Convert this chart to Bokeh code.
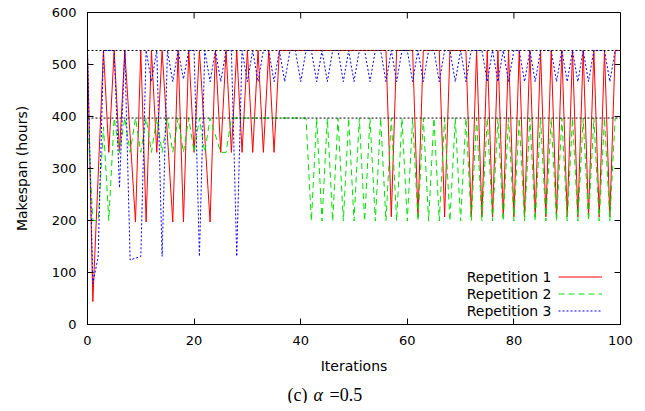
import math
from bokeh.plotting import figure
from bokeh.layouts import column
from bokeh.models import (FixedTicker, Legend, LegendItem, Label, Range1d, Span)
from bokeh.embed import file_html
from bokeh.resources import INLINE
from bokeh.core.properties import value

# ---------------- data ----------------
rep1_iter = [0, 1, 3, 4, 5, 6, 7, 9, 10, 11, 12, 13, 14, 16, 17, 18, 19, 20, 21,
             23, 24, 25, 26, 27, 28, 29, 30, 31, 32, 33, 34, 35, 36, 56, 57, 58,
             61, 62, 63, 66, 67, 68, 71, 72, 73, 74, 75, 76, 77, 78, 79, 80, 81,
             82, 83, 84, 85, 86, 87, 88, 89, 90, 91, 92, 93, 94, 95, 96, 97, 98,
             99, 100]
rep1_makespan = [527, 44, 527, 331, 527, 331, 527, 197, 527, 197, 527, 331, 527,
                 197, 527, 197, 527, 331, 527, 197, 527, 331, 527, 331, 527, 331,
                 527, 331, 527, 331, 527, 331, 527, 527, 207, 527, 527, 207, 527,
                 527, 207, 527, 527, 207, 527, 207, 527, 207, 527, 207, 527, 207,
                 527, 207, 527, 207, 527, 207, 527, 207, 527, 207, 527, 207, 527,
                 207, 527, 207, 527, 207, 527, 527]

rep2_iter = [0, 1, 2, 3, 4, 5, 6, 7, 8, 9, 10, 11, 12, 13, 14, 15, 16, 17, 18,
             19, 20, 21, 22, 23, 25, 26, 27, 41, 42, 43, 44, 45, 46, 47, 48, 49,
             50, 51, 52, 53, 54, 55, 56, 57, 58, 59, 60, 61, 62, 63, 64, 65, 66,
             67, 68, 69, 70, 71, 72, 73, 74, 75, 76, 77, 78, 79, 80, 81, 82, 83,
             84, 85, 86, 87, 88, 89, 90, 91, 92, 93, 94, 95, 96, 97, 98, 99]
rep2_makespan = [397, 200, 200, 380, 200, 397, 331, 397, 331, 397, 331, 397, 331,
                 397, 331, 397, 331, 397, 331, 397, 331, 397, 331, 397, 331, 331,
                 397, 397, 199, 397, 199, 397, 199, 397, 199, 397, 199, 397, 199,
                 397, 199, 397, 199, 397, 199, 397, 199, 397, 199, 397, 199, 397,
                 199, 397, 199, 397, 199, 397, 199, 397, 199, 397, 199, 397, 199,
                 397, 199, 397, 199, 397, 199, 397, 199, 397, 199, 397, 199, 397,
                 199, 397, 199, 397, 199, 397, 199, 397]

rep3_iter = [0, 1, 2, 3, 5, 6, 7, 8, 10, 11, 12, 13, 14, 15, 16, 17, 18, 19, 20,
             21, 22, 23, 24, 25, 26, 27, 28, 29, 30, 31, 32, 33, 34, 35, 36, 37,
             38, 39, 40, 41, 42, 43, 44, 45, 46, 47, 48, 49, 50, 51, 52, 53, 54,
             55, 56, 57, 58, 59, 60, 61, 62, 63, 64, 65, 66, 67, 68, 69, 70, 71,
             72, 74, 75, 76, 77, 78, 79, 80, 81, 82, 83, 84, 85, 87, 88, 89, 90,
             91, 92, 93, 94, 95, 97, 98, 99, 100]
rep3_makespan = [527, 79, 130, 527, 527, 263, 527, 124, 131, 527, 467, 527, 131,
                 527, 467, 527, 472, 527, 527, 131, 527, 467, 527, 467, 527, 527,
                 131, 527, 467, 527, 467, 527, 527, 467, 527, 467, 527, 527, 467,
                 527, 527, 467, 527, 467, 527, 527, 467, 527, 467, 527, 527, 467,
                 527, 527, 467, 527, 467, 527, 527, 467, 527, 467, 527, 527, 467,
                 527, 527, 467, 527, 467, 527, 527, 467, 527, 467, 527, 467, 527,
                 527, 467, 527, 467, 527, 527, 467, 527, 467, 527, 467, 527, 467,
                 527, 527, 467, 527, 527]

series_labels = ["Repetition 1", "Repetition 2", "Repetition 3"]
reference_levels = [527, 397]
x_limits = [0, 100]
y_limits = [0, 600]
x_ticks = [0, 20, 40, 60, 80, 100]
y_ticks = [0, 100, 200, 300, 400, 500, 600]
caption_parts = ["(c)", "\u03b1", "=0.5"]

# ---------------- main figure ----------------
FONT = "DejaVu Sans"
p = figure(width=637, height=380,
           x_range=Range1d(*x_limits), y_range=Range1d(*y_limits),
           output_backend="svg", toolbar_location=None,
           min_border_left=87, min_border_right=17, min_border_top=12,
           min_border_bottom=56, x_axis_label="Iterations",
           y_axis_label="Makespan (hours)")
p.xgrid.visible = False
p.ygrid.visible = False
p.outline_line_color = "black"
p.outline_line_width = 1
p.background_fill_color = "white"
p.border_fill_color = "white"

for ax, ticks in ((p.xaxis[0], x_ticks), (p.yaxis[0], y_ticks)):
    ax.ticker = FixedTicker(ticks=ticks)
    ax.major_tick_in = 6
    ax.major_tick_out = 0
    ax.minor_tick_in = 0
    ax.minor_tick_out = 0
    ax.major_tick_line_color = "black"
    ax.axis_line_color = "black"
    ax.major_label_text_font = FONT
    ax.major_label_text_font_size = "13px"
    ax.major_label_text_color = "black"
    ax.axis_label_text_font = FONT
    ax.axis_label_text_font_size = "14px"
    ax.axis_label_text_font_style = "normal"
    ax.axis_label_text_color = "black"

p.xaxis[0].major_label_standoff = 11
p.xaxis[0].axis_label_standoff = 10
p.yaxis[0].major_label_standoff = 11
p.yaxis[0].axis_label_standoff = 19

# mirrored inward ticks on the right and top borders (6 px long)
p.ray(x=[x_limits[1]] * len(y_ticks), y=y_ticks, length=6, length_units="screen",
      angle=math.pi, line_color="black", line_width=1)
p.ray(x=x_ticks, y=[y_limits[1]] * len(x_ticks), length=6, length_units="screen",
      angle=-math.pi / 2, line_color="black", line_width=1)

# series
r1 = p.line(rep1_iter, rep1_makespan, line_color="#ff0000", line_width=1)
r2 = p.line(rep2_iter, rep2_makespan, line_color="#00e000", line_width=1,
            line_dash="6 4")
r3 = p.line(rep3_iter, rep3_makespan, line_color="#0000ff", line_width=1,
            line_dash="2 2")

# reference levels
for lvl in reference_levels:
    p.add_layout(Span(location=lvl, dimension="width", line_color="black",
                      line_width=1, line_dash="2 2"))

# legend: sample lines on the right, text on the left (gnuplot style)
legend = Legend(items=[LegendItem(label=value(""), renderers=[r])
                       for r in (r1, r2, r3)],
                location=(471, 5), padding=0, spacing=0, margin=0,
                glyph_width=44, glyph_height=17, label_height=17,
                label_width=0, label_standoff=0,
                border_line_color=None, background_fill_alpha=0)
p.add_layout(legend)
for k, lab in enumerate(series_labels):
    p.add_layout(Label(x=464, y=47.5 - 17 * k, x_units="screen", y_units="screen",
                       text=lab, text_align="right", text_baseline="middle",
                       text_font=FONT, text_font_size="14px", text_color="black"))

# ---------------- caption strip below the plot ----------------
# (its frame is aligned with the main frame, which starts 87 px from the left)
cap = figure(width=637, height=23, x_range=Range1d(0, 1), y_range=Range1d(0, 1),
             output_backend="svg", toolbar_location=None,
             x_axis_location=None, y_axis_location=None,
             min_border_left=0, min_border_right=0, min_border_top=0,
             min_border_bottom=0)
cap.xgrid.visible = False
cap.ygrid.visible = False
cap.outline_line_color = None
cap.background_fill_color = "white"
cap.border_fill_color = "white"
for txt, xpos, style in zip(caption_parts, (200, 226, 242),
                            ("normal", "italic", "normal")):
    cap.add_layout(Label(x=xpos, y=9, x_units="screen", y_units="screen",
                         text=txt, text_align="left", text_baseline="middle",
                         text_font="Liberation Serif", text_font_size="18px",
                         text_font_style=style, text_color="black"))

layout = column(p, cap, spacing=0)
open("out.html", "w").write(file_html(layout, INLINE))
